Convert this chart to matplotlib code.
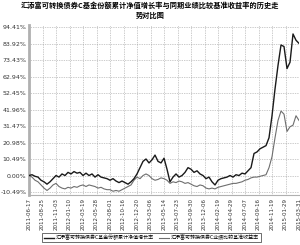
import matplotlib
matplotlib.use("Agg")
import matplotlib.pyplot as plt
import numpy as np

plt.rcParams['font.family'] = ['Noto Sans CJK SC', 'DejaVu Sans']

title = "汇添富可转换债券C基金份额累计净值增长率与同期业绩比较基准收益率的历史走\n势对比图"
fund_label = "汇添富可转换债券C基金份额累计净值增长率"
bench_label = "汇添富可转换债券C业绩比较基准收益率"

date_labels = ["2011-06-17", "2011-08-25", "2011-11-03", "2012-01-10", "2012-03-19",
               "2012-05-28", "2012-08-01", "2012-10-16", "2012-12-20", "2013-03-06",
               "2013-05-14", "2013-07-23", "2013-09-30", "2013-12-06", "2014-02-19",
               "2014-04-29", "2014-07-07", "2014-09-16", "2014-11-19", "2015-01-29",
               "2015-03-31"]

y_ticks = [-10.49, 0.00, 10.49, 20.98, 31.47, 41.96, 52.45, 62.94, 73.43, 83.92, 94.41]

fund = [0, 0.5, -0.5, -1, -3, -4, -5.5, -4, -2, 0, -1, 1, 0, 2, 1, 2.5, 1.5, 2, 0, 1.5,
        0, 1, -1, 0.5, -1, -1.5, -2, -3, -2, -3.5, -4.5, -3.5, -4.5, -5.5, -4, -2, 1, 5, 9, 10.5,
        8, 10, 13, 9, 8, 11, 4, -4, -1, 1, -1, 0, 2, 5, 4, 2, 3, 1, 0, -2,
        -1, -4, -6, -3, -2, -1.5, -1, 0, -1, 0.5, 0, 1.5, 1, 3, 5, 14, 15, 17, 18, 19,
        24, 38, 55, 70, 83, 82, 68, 72, 90, 86, 84]

bench = [0, -1, -3, -4, -6, -8, -9.5, -8, -6, -5, -7, -8, -8.5, -7.5, -8, -7, -7.5, -6.5, -6, -7,
         -6, -6.5, -7, -8, -7.5, -8.5, -9, -9, -10, -9.5, -10, -9, -8, -7, -6, -3, -1, -2, 0, 1,
         0, -2, -3, -2.5, -1.5, -2, -3, -5, -4, -4.5, -3.5, -4, -5, -4.5, -5.5, -6.5, -7, -6, -6.5, -8,
         -8.5, -8, -8.5, -7.5, -7, -6.5, -6, -5.5, -5, -5, -4.5, -4, -3, -2.5, -1.5, -1, -1, -0.5, 0, 0.5,
         5, 12, 24, 35, 41, 39, 28, 31, 32, 38, 35]

fig = plt.figure(figsize=(3.0, 2.45), dpi=100)
ax = fig.add_axes([0.0967, 0.204, 0.9, 0.694])

x = np.arange(len(fund))
ax.plot(x, bench, color='#6e6e6e', lw=0.8, label=bench_label, zorder=3)
ax.plot(x, fund, color='#1a1a1a', lw=1.0, label=fund_label, zorder=4)

n = len(fund) - 1
ax.set_xlim(0, n)
ax.set_ylim(-12.4, 95.7)
ax.set_xticks(np.linspace(0, n, len(date_labels)))
ax.set_xticklabels(date_labels, rotation=90, fontsize=4.0, color='#333333',
                   family='DejaVu Sans')
ax.set_yticks(y_ticks)
ax.set_yticklabels([f"{v:.2f}%" for v in y_ticks], fontsize=4.5, color='#333333',
                   family='DejaVu Sans')
ax.tick_params(axis='both', length=0, pad=2)

ax.grid(True, color='#999999', linestyle=(0, (1, 1.5)), linewidth=0.5)
for s in ['top', 'right']:
    ax.spines[s].set_visible(False)
ax.spines['left'].set_color('#b0b0b0')
ax.spines['left'].set_linewidth(2)
ax.spines['bottom'].set_color('#b0b0b0')
ax.spines['bottom'].set_linewidth(0.8)

fig.text(0.5, 0.995, title, ha='center', va='top', fontsize=5.2, fontweight='bold',
         linespacing=1.5)

h, l = ax.get_legend_handles_labels()
leg = fig.legend(h[::-1], l[::-1], loc='lower center', bbox_to_anchor=(0.505, 0.003), ncol=2,
                 fontsize=3.6, frameon=True, fancybox=False, handlelength=2.0,
                 borderpad=0.3, columnspacing=1.0, handletextpad=0.4)
leg.get_frame().set_edgecolor('#000000')
leg.get_frame().set_linewidth(0.5)

fig.savefig("out.png", dpi=100)
